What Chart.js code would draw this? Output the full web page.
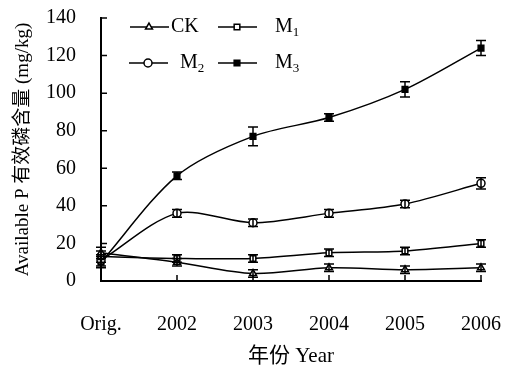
<!DOCTYPE html>
<html>
<head>
<meta charset="utf-8">
<script src="https://cdn.jsdelivr.net/npm/chart.js@4.4.0/dist/chart.umd.min.js"></script>
<style>
html,body{margin:0;padding:0;background:#fff;}
#wrap{width:523px;height:373px;}
</style>
</head>
<body>
<div id="wrap"><canvas id="pchart" width="523" height="373"></canvas></div>
<script>
const years=['Orig.','2002','2003','2004','2005','2006'];
const ck=[15,10,4,7,6,7];
const m1=[13,12,12,15,16,20];
const m2=[11,36,31,36,41,52];
const m3=[10,56,77,87,102,124];
const ckErr=[3,2,2,2,2,2];
const m1Err=[3,2,2,2,2,2];
const m2Err=[3,2,2,2,2,3];
const m3Err=[3,2,5,2,4,4];
const yTicks=[0,20,40,60,80,100,120,140];

const serif="'Liberation Serif','Noto Sans CJK SC',serif";

const errorBars={
    id:'errorBars',
    afterDatasetsDraw(chart){
        const ctx=chart.ctx;
        const y=chart.scales.y;
        chart.data.datasets.forEach((ds,di)=>{
            const meta=chart.getDatasetMeta(di);
            meta.data.forEach((pt,i)=>{
                const e=ds.errors[i];
                const top=y.getPixelForValue(ds.data[i]+e);
                const bot=y.getPixelForValue(ds.data[i]-e);
                ctx.save();
                ctx.strokeStyle='#000';
                ctx.lineWidth=1.5;
                ctx.beginPath();
                ctx.moveTo(pt.x,top);ctx.lineTo(pt.x,bot);
                ctx.moveTo(pt.x-5,top);ctx.lineTo(pt.x+5,top);
                ctx.moveTo(pt.x-5,bot);ctx.lineTo(pt.x+5,bot);
                ctx.stroke();
                ctx.restore();
            });
        });
    }
};

// inward tick marks like the original figure
const innerTicks={
    id:'innerTicks',
    afterDraw(chart){
        const ctx=chart.ctx;
        const a=chart.chartArea;
        const x=chart.scales.x, y=chart.scales.y;
        ctx.save();
        ctx.strokeStyle='#000';
        ctx.lineWidth=1.5;
        ctx.beginPath();
        y.ticks.forEach((t,i)=>{
            const py=y.getPixelForTick(i);
            ctx.moveTo(a.left,py);ctx.lineTo(a.left+6,py);
        });
        x.ticks.forEach((t,i)=>{
            if(i===0) return;
            const px=x.getPixelForTick(i);
            ctx.moveTo(px,a.bottom);ctx.lineTo(px,a.bottom-6);
        });
        ctx.stroke();
        ctx.restore();
    }
};

// legend drawn inside the plot, two columns
const innerLegend={
    id:'innerLegend',
    afterDraw(chart){
        const ctx=chart.ctx;
        const items=[
            {ds:0,x:130,y:27,tx:171,name:'CK',sub:''},
            {ds:1,x:218,y:27,tx:275,name:'M',sub:'1'},
            {ds:2,x:129,y:63,tx:180,name:'M',sub:'2'},
            {ds:3,x:218,y:63,tx:275,name:'M',sub:'3'}
        ];
        items.forEach(it=>{
            const ds=chart.data.datasets[it.ds];
            ctx.save();
            ctx.strokeStyle='#000';
            ctx.lineWidth=1.5;
            ctx.beginPath();
            ctx.moveTo(it.x,it.y);ctx.lineTo(it.x+39,it.y);
            ctx.stroke();
            ctx.fillStyle=ds.pointBackgroundColor;
            Chart.helpers.drawPoint(ctx,{pointStyle:ds.pointStyle,radius:4,borderWidth:1.5},it.x+19,it.y);
            ctx.fillStyle='#000';
            ctx.textBaseline='middle';
            ctx.font='20px '+serif;
            ctx.fillText(it.name,it.tx,it.y);
            if(it.sub){
                const w=ctx.measureText(it.name).width;
                ctx.font='13px '+serif;
                ctx.fillText(it.sub,it.tx+w,it.y+6);
            }
            ctx.restore();
        });
    }
};

function line(data,err,style,fill){
    return {
        data:data,
        errors:err,
        borderColor:'#000',
        borderWidth:1.5,
        pointStyle:style,
        pointRadius:4,
        pointBorderWidth:1.5,
        pointBorderColor:'#000',
        pointBackgroundColor:fill,
        tension:0.3,
        fill:false
    };
}

new Chart(document.getElementById('pchart'),{
    type:'line',
    data:{
        labels:years,
        datasets:[
            line(ck,ckErr,'triangle','#fff'),
            line(m1,m1Err,'rect','#fff'),
            line(m2,m2Err,'circle','#fff'),
            line(m3,m3Err,'rect','#000')
        ]
    },
    options:{
        responsive:false,
        animation:false,
        layout:{padding:{left:0,right:42,top:18,bottom:0}},
        plugins:{legend:{display:false},tooltip:{enabled:false}},
        scales:{
            x:{
                offset:false,
                grid:{display:false},
                border:{display:true,color:'#000',width:2},
                ticks:{color:'#000',font:{family:serif,size:20},padding:24},
                title:{display:true,text:'年份 Year',color:'#000',font:{family:serif,size:21},padding:{top:8}},
                afterFit(s){s.height=92;s.paddingLeft=0;s.paddingRight=0;}
            },
            y:{
                min:0,max:140,
                grid:{display:false},
                border:{display:true,color:'#000',width:2},
                afterBuildTicks(s){s.ticks=yTicks.map(v=>({value:v}));},
                ticks:{color:'#000',font:{family:serif,size:20},padding:17},
                title:{display:true,text:'Available P 有效磷含量 (mg/kg)',color:'#000',font:{family:serif,size:19},padding:{top:12,bottom:4}},
                afterFit(s){s.width=101;s.paddingTop=0;s.paddingBottom=0;}
            }
        }
    },
    plugins:[errorBars,innerTicks,innerLegend]
});
</script>
</body>
</html>
